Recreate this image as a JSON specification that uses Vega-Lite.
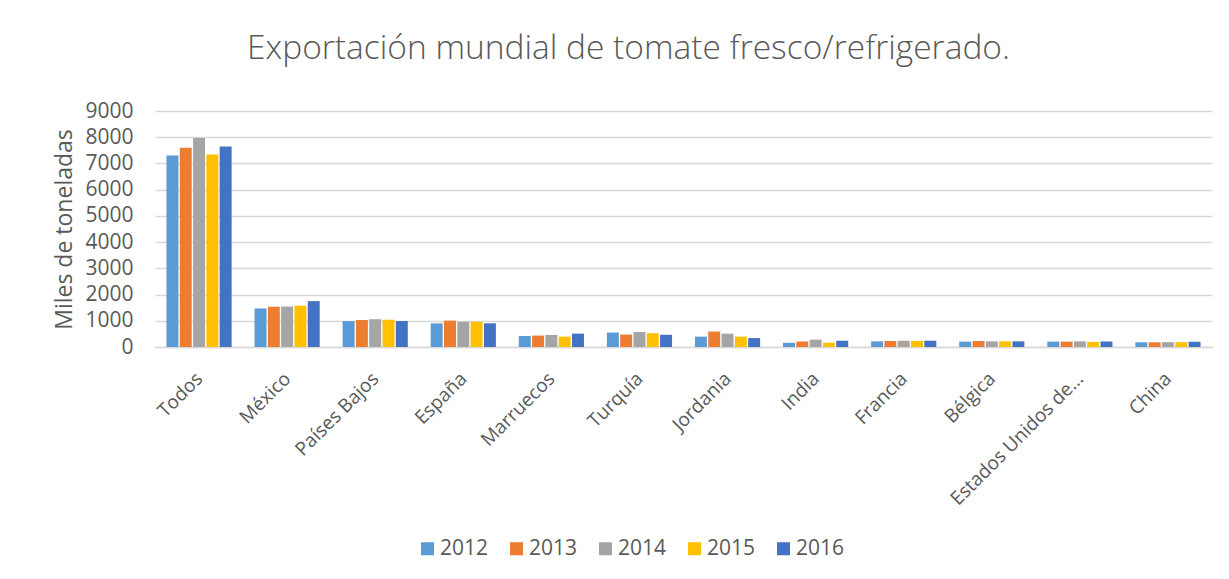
{
  "$schema": "https://vega.github.io/schema/vega-lite/v6.json",
  "width": 1057,
  "height": 236,
  "autosize": "none",
  "padding": {"left": 155, "top": 111, "right": 17, "bottom": 232},
  "background": "white",
  "title": {
    "text": "Exportación mundial de tomate fresco/refrigerado.",
    "fontSize": 33.5,
    "font": "Open Sans",
    "fontWeight": 300,
    "color": "#595959",
    "anchor": "middle",
    "dx": -55,
    "offset": 34
  },
  "data": {
    "values": [
      {"pais": "Todos", "anio": "2012", "valor": 7300},
      {"pais": "Todos", "anio": "2013", "valor": 7600},
      {"pais": "Todos", "anio": "2014", "valor": 7970},
      {"pais": "Todos", "anio": "2015", "valor": 7340},
      {"pais": "Todos", "anio": "2016", "valor": 7650},
      {"pais": "México", "anio": "2012", "valor": 1470},
      {"pais": "México", "anio": "2013", "valor": 1535},
      {"pais": "México", "anio": "2014", "valor": 1540},
      {"pais": "México", "anio": "2015", "valor": 1575},
      {"pais": "México", "anio": "2016", "valor": 1750},
      {"pais": "Países Bajos", "anio": "2012", "valor": 990},
      {"pais": "Países Bajos", "anio": "2013", "valor": 1030},
      {"pais": "Países Bajos", "anio": "2014", "valor": 1060},
      {"pais": "Países Bajos", "anio": "2015", "valor": 1040},
      {"pais": "Países Bajos", "anio": "2016", "valor": 990},
      {"pais": "España", "anio": "2012", "valor": 900},
      {"pais": "España", "anio": "2013", "valor": 1005},
      {"pais": "España", "anio": "2014", "valor": 960},
      {"pais": "España", "anio": "2015", "valor": 960},
      {"pais": "España", "anio": "2016", "valor": 905},
      {"pais": "Marruecos", "anio": "2012", "valor": 420},
      {"pais": "Marruecos", "anio": "2013", "valor": 435},
      {"pais": "Marruecos", "anio": "2014", "valor": 460},
      {"pais": "Marruecos", "anio": "2015", "valor": 395},
      {"pais": "Marruecos", "anio": "2016", "valor": 510},
      {"pais": "Turquía", "anio": "2012", "valor": 550},
      {"pais": "Turquía", "anio": "2013", "valor": 475},
      {"pais": "Turquía", "anio": "2014", "valor": 575},
      {"pais": "Turquía", "anio": "2015", "valor": 525},
      {"pais": "Turquía", "anio": "2016", "valor": 470},
      {"pais": "Jordania", "anio": "2012", "valor": 395},
      {"pais": "Jordania", "anio": "2013", "valor": 590},
      {"pais": "Jordania", "anio": "2014", "valor": 510},
      {"pais": "Jordania", "anio": "2015", "valor": 395},
      {"pais": "Jordania", "anio": "2016", "valor": 340},
      {"pais": "India", "anio": "2012", "valor": 160},
      {"pais": "India", "anio": "2013", "valor": 210},
      {"pais": "India", "anio": "2014", "valor": 280},
      {"pais": "India", "anio": "2015", "valor": 165},
      {"pais": "India", "anio": "2016", "valor": 240},
      {"pais": "Francia", "anio": "2012", "valor": 215},
      {"pais": "Francia", "anio": "2013", "valor": 230},
      {"pais": "Francia", "anio": "2014", "valor": 240},
      {"pais": "Francia", "anio": "2015", "valor": 230},
      {"pais": "Francia", "anio": "2016", "valor": 240},
      {"pais": "Bélgica", "anio": "2012", "valor": 205},
      {"pais": "Bélgica", "anio": "2013", "valor": 230},
      {"pais": "Bélgica", "anio": "2014", "valor": 215},
      {"pais": "Bélgica", "anio": "2015", "valor": 215},
      {"pais": "Bélgica", "anio": "2016", "valor": 215},
      {"pais": "Estados Unidos de…", "anio": "2012", "valor": 205},
      {"pais": "Estados Unidos de…", "anio": "2013", "valor": 205},
      {"pais": "Estados Unidos de…", "anio": "2014", "valor": 215},
      {"pais": "Estados Unidos de…", "anio": "2015", "valor": 195},
      {"pais": "Estados Unidos de…", "anio": "2016", "valor": 210},
      {"pais": "China", "anio": "2012", "valor": 180},
      {"pais": "China", "anio": "2013", "valor": 180},
      {"pais": "China", "anio": "2014", "valor": 185},
      {"pais": "China", "anio": "2015", "valor": 185},
      {"pais": "China", "anio": "2016", "valor": 200}
    ]
  },
  "mark": {"type": "bar"},
  "encoding": {
    "x": {
      "field": "pais",
      "type": "nominal",
      "sort": null,
      "scale": {"paddingInner": 0.26, "paddingOuter": 0.13},
      "axis": {
        "title": null,
        "labelAngle": -45,
        "labelFont": "Open Sans",
        "labelFontSize": 19,
        "labelColor": "#595959",
        "labelPadding": 22,
        "labelOffset": -6,
        "ticks": false,
        "domainColor": "#d9d9d9",
        "domainWidth": 1.5
      }
    },
    "xOffset": {
      "field": "anio",
      "type": "nominal",
      "scale": {"paddingInner": 0.1}
    },
    "y": {
      "field": "valor",
      "type": "quantitative",
      "scale": {"domain": [0, 9000], "nice": false},
      "axis": {
        "title": "Miles de toneladas",
        "titleFont": "Open Sans",
        "titleFontSize": 23,
        "titleFontWeight": "normal",
        "titleColor": "#595959",
        "titlePadding": 8,
        "values": [0, 1000, 2000, 3000, 4000, 5000, 6000, 7000, 8000, 9000],
        "format": "d",
        "labelFont": "Open Sans",
        "labelFontSize": 21,
        "labelColor": "#595959",
        "labelPadding": 22,
        "ticks": false,
        "domain": false,
        "gridColor": "#d9d9d9",
        "gridWidth": 1.5
      }
    },
    "color": {
      "field": "anio",
      "type": "nominal",
      "scale": {
        "domain": ["2012", "2013", "2014", "2015", "2016"],
        "range": ["#5B9BD5", "#ED7D31", "#A5A5A5", "#FFC000", "#4472C4"]
      },
      "legend": {
        "title": null,
        "orient": "none",
        "legendX": 262,
        "legendY": 427,
        "direction": "horizontal",
        "symbolType": "square",
        "symbolSize": 170,
        "symbolStrokeWidth": 0,
        "labelFont": "Open Sans",
        "labelFontSize": 21,
        "labelColor": "#595959",
        "labelOffset": 2,
        "columnPadding": 17
      }
    }
  },
  "config": {"view": {"stroke": null}}
}
